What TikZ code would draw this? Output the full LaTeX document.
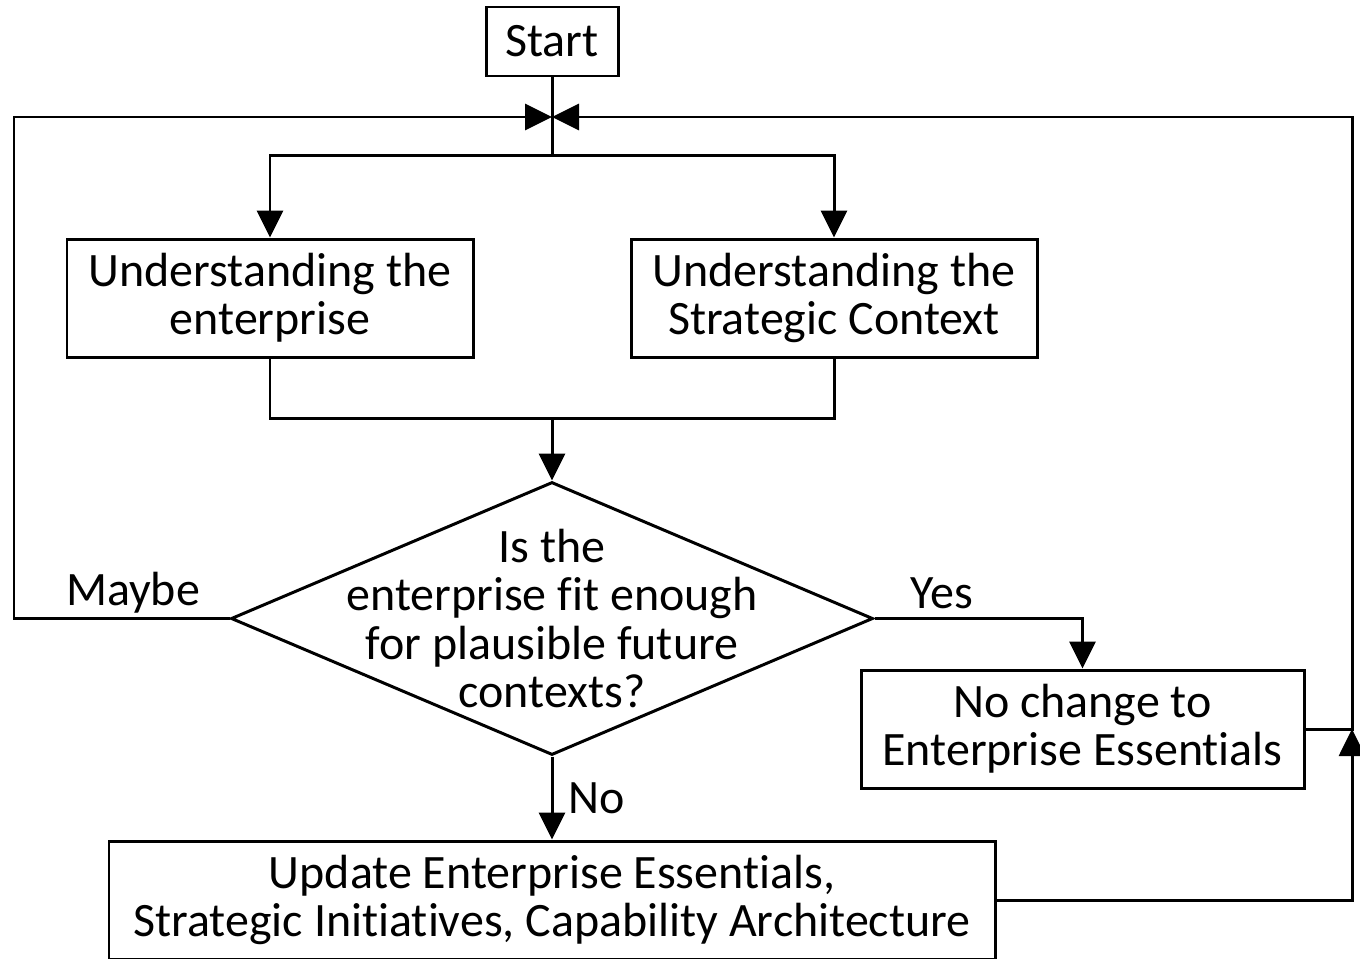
\documentclass[tikz,border=0pt]{standalone}
\usepackage{fontspec}
\setmainfont{Carlito}[Ligatures=NoCommon]
\usetikzlibrary{shapes.geometric}
\usetikzlibrary{arrows.meta}

\begin{document}
\begin{tikzpicture}[line width=1.7pt]

\tikzset{step box/.style = {shape=rectangle,draw,align=center,inner sep=0pt,
  minimum height=2.36cm,font=\fontsize{27.3}{27.4}\selectfont}}
\tikzset{decision/.style = {shape=diamond,draw,inner sep=0pt,
  minimum width=12.84cm,minimum height=5.46cm}}
\tikzset{txt/.style = {align=center,font=\fontsize{27.3}{27.4}\selectfont}}
\tikzset{edge/.style = {-{Triangle[length=0.54cm,width=0.52cm]}}}

\useasboundingbox (0,0) rectangle (27.2,-19.16);

\node[step box,minimum width=2.64cm,minimum height=1.38cm] (start) at (11.04,-0.83) {Start};
\node[step box,minimum width=8.12cm] (enterprise) at (5.4,-5.96) {Understanding the\\enterprise};
\node[step box,minimum width=8.12cm] (context) at (16.68,-5.96) {Understanding the\\Strategic Context};
\node[decision] (fit) at (11.04,-12.37) {};
\node[txt] (fittext) at (fit) {Is the\\enterprise fit enough\\for plausible future\\contexts?};
\node[step box,minimum width=8.86cm] (nochange) at (21.65,-14.58) {No change to\\Enterprise Essentials};
\node[step box,minimum width=17.72cm] (update) at (11.04,-18.0) {Update Enterprise Essentials,\\Strategic Initiatives, Capability Architecture};

\coordinate (join) at (11.04,-2.34);
\coordinate (split) at (11.04,-3.1);
\coordinate (merge) at (11.04,-8.36);
\coordinate (leftrail) at (0.28,-12.37);
\coordinate (rightrail) at (27.04,-2.34);

\node[txt] (maybe) at (2.66,-11.86) {Maybe};
\node[txt] (yes) at (18.84,-11.86) {Yes};
\node[txt] (no) at (11.93,-15.96) {No};

\draw (start) -- (split);
\draw[edge] (split) -| (enterprise);
\draw[edge] (split) -| (context);
\draw (enterprise) |- (merge);
\draw (context) |- (merge);
\draw[edge] (merge) -- (fit);
\draw[edge] (fit.west) -- (leftrail) |- (join);
\draw[edge] (fit.east) -| (nochange);
\draw[edge] (fit) -- (update);
\draw[edge] (nochange.east) -| (rightrail) -- (join);
\draw[edge] (update.east) -| (nochange.east -| rightrail);

\end{tikzpicture}
\end{document}
